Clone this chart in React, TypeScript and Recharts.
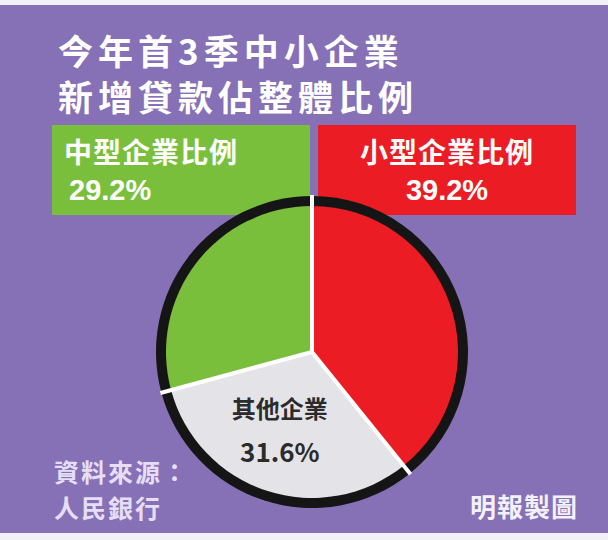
import { Cell, Pie, PieChart } from 'recharts';

// 今年首3季中小企業新增貸款佔整體比例 (%), clockwise from 12 o'clock
const SEGMENTS = ['小型企業', '其他企業', '中型企業'];
const SHARES = [39.2, 31.6, 29.2];
const SLICE_COLORS = ['#ec1c24', '#e4e4e8', '#7abf3c'];

const TITLE_LINES = ['今年首3季中小企業', '新增貸款佔整體比例'];
const SOURCE_LINES = ['資料來源：', '人民銀行'];
const CREDIT = '明報製圖';

const data = SEGMENTS.map((name, i) => ({ name, value: SHARES[i] }));

const FONT = '"Noto Sans CJK TC", "Noto Sans CJK SC", sans-serif';
const BG = '#8670b6';
const RING_RADIUS = 156;

// white separator at each slice's start edge, cutting through the black rim,
// plus the in-slice label for the grey slice
function sliceOverlay(props: any) {
  const { cx, cy, midAngle, startAngle, index } = props;
  const a = (Math.PI / 180) * startAngle;
  const edge = (
    <line
      x1={cx}
      y1={cy}
      x2={cx + (RING_RADIUS + 1) * Math.cos(a)}
      y2={cy - (RING_RADIUS + 1) * Math.sin(a)}
      stroke="#ffffff"
      strokeWidth={4}
    />
  );
  if (SEGMENTS[index] !== '其他企業') return <g>{edge}</g>;
  const r = 88;
  const rad = (Math.PI / 180) * midAngle;
  const x = cx + r * Math.cos(rad) - 5;
  const y = cy - r * Math.sin(rad) - 6;
  return (
    <g>
      {edge}
      <g style={{ fontFamily: FONT, fontWeight: 700, fill: '#2b2b2b' }}>
        <text x={x} y={y - 22} textAnchor="middle" dominantBaseline="central" fontSize={24}>
          {SEGMENTS[index]}
        </text>
        <text x={x} y={y + 21} textAnchor="middle" dominantBaseline="central" fontSize={26}>
          {`${SHARES[index].toFixed(1)}%`}
        </text>
      </g>
    </g>
  );
}

function Box({ left, color, title, value, align }: { left: number; color: string; title: string; value: string; align: 'left' | 'center' }) {
  const pad = align === 'left' ? 12 : 0;
  return (
    <div
      style={{
        position: 'absolute',
        left,
        top: 125,
        width: 258,
        height: 90,
        background: color,
        color: '#ffffff',
        fontWeight: 700,
        textAlign: align,
      }}
    >
      <div style={{ position: 'absolute', top: 8, left: 0, right: 0, paddingLeft: pad, fontSize: 28, lineHeight: '36px', letterSpacing: 1 }}>
        {title}
      </div>
      <div style={{ position: 'absolute', top: 47, left: 0, right: 0, paddingLeft: pad ? 17 : 0, fontSize: 29, lineHeight: '36px', fontFamily: '"Liberation Sans", Arial, sans-serif' }}>
        {value}
      </div>
    </div>
  );
}

export default function App() {
  return (
    <div style={{ position: 'absolute', left: 0, top: 0, width: 608, height: 540, background: '#f2f0f6', overflow: 'hidden', fontFamily: FONT }}>
      <div style={{ position: 'absolute', left: 0, top: 5, width: 608, height: 528, background: BG }} />
      {TITLE_LINES.map((line, i) => (
        <div
          key={line}
          style={{
            position: 'absolute',
            left: 58,
            top: 30 + i * 46,
            color: '#ffffff',
            fontWeight: 700,
            fontSize: 35,
            lineHeight: '40px',
            letterSpacing: 5,
            whiteSpace: 'nowrap',
          }}
        >
          {line}
        </div>
      ))}
      <Box left={52} color="#7abf3c" title="中型企業比例" value={`${SHARES[2].toFixed(1)}%`} align="left" />
      <Box left={318} color="#ec1c24" title="小型企業比例" value={`${SHARES[0].toFixed(1)}%`} align="center" />
      {SOURCE_LINES.map((line, i) => (
        <div
          key={line}
          style={{ position: 'absolute', left: 54, top: 455 + i * 36, color: '#e6def4', fontWeight: 700, fontSize: 25, lineHeight: '32px', letterSpacing: 2 }}
        >
          {line}
        </div>
      ))}
      <div style={{ position: 'absolute', left: 470, top: 491, color: '#f4f0fa', fontWeight: 700, fontSize: 26, lineHeight: '30px', letterSpacing: 1 }}>
        {CREDIT}
      </div>
      <div style={{ position: 'absolute', left: 0, top: 0 }}>
        <PieChart width={608} height={540} margin={{ top: 0, right: 0, bottom: 0, left: 0 }}>
          <Pie
            data={data}
            dataKey="value"
            nameKey="name"
            cx={312}
            cy={352}
            outerRadius={RING_RADIUS}
            startAngle={90}
            endAngle={-270}
            stroke="none"
            isAnimationActive={false}
          >
            {data.map((d) => (
              <Cell key={d.name} fill="#151515" />
            ))}
          </Pie>
          <Pie
            data={data}
            dataKey="value"
            nameKey="name"
            cx={312}
            cy={352}
            outerRadius={146}
            startAngle={90}
            endAngle={-270}
            stroke="none"
            label={sliceOverlay}
            labelLine={false}
            isAnimationActive={false}
          >
            {data.map((d, i) => (
              <Cell key={d.name} fill={SLICE_COLORS[i]} />
            ))}
          </Pie>
        </PieChart>
      </div>
    </div>
  );
}
